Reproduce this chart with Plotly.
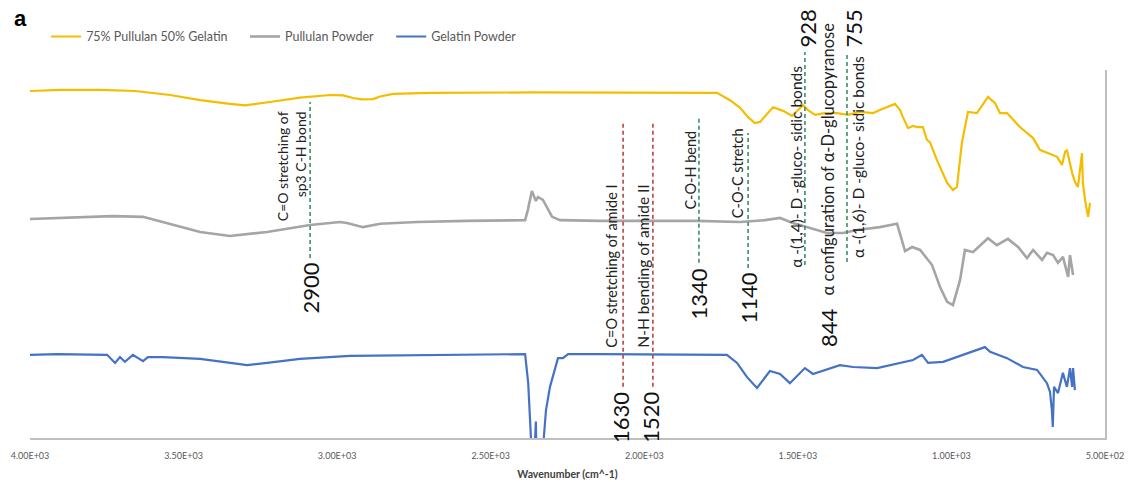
import plotly.graph_objects as go

# ---------------- data (wavenumber cm^-1, relative transmittance a.u.) ----------------
mix_wn = [4000, 3902, 3772, 3658, 3544, 3446, 3349, 3300, 3219, 3121, 3023, 2981, 2948, 2919,
          2883, 2860, 2818, 2698, 2372, 2144, 1763, 1721, 1688, 1662, 1640, 1623, 1607, 1581,
          1548, 1519, 1483, 1467, 1444, 1412, 1373, 1337, 1298, 1255, 1233, 1184, 1167, 1158,
          1141, 1125, 1112, 1093, 1080, 1070, 1047, 1014, 995, 982, 966, 946, 917, 881, 858,
          842, 819, 777, 734, 712, 656, 640, 630, 624, 607, 598, 588, 575, 572, 565, 555, 549]
mix_t = [94.3, 94.6, 94.6, 94.3, 93.2, 91.8, 90.8, 90.4, 91.3, 92.5, 93.2, 93.1, 92.4, 92.0,
         92.1, 92.8, 93.5, 93.8, 93.9, 93.9, 93.8, 91.8, 89.7, 87.2, 85.6, 85.9, 87.5, 89.9,
         88.9, 87.5, 90.5, 89.1, 87.8, 88.3, 88.3, 87.8, 88.6, 88.3, 89.1, 90.8, 89.1, 87.2,
         84.2, 84.8, 84.5, 84.5, 81.0, 80.4, 75.5, 69.3, 67.4, 68.2, 80.2, 88.6, 88.3, 92.7, 91.0,
         88.3, 88.3, 84.5, 81.5, 78.3, 76.4, 74.2, 77.7, 78.3, 72.0, 69.6, 68.2, 77.4, 69.3, 64.7, 60.1, 63.9]

pul_wn = [4000, 3880, 3733, 3632, 3554, 3446, 3349, 3228, 3088, 2991, 2968, 2916, 2860, 2740,
          2577, 2388, 2379, 2366, 2353, 2346, 2330, 2300, 2274, 2144, 1828, 1688, 1607, 1558,
          1516, 1451, 1405, 1353, 1307, 1233, 1177, 1151, 1128, 1102, 1076, 1063, 1037, 1014,
          995, 972, 956, 930, 881, 852, 816, 783, 754, 734, 705, 689, 669, 653, 637, 620, 614, 604]
pul_t = [59.5, 59.8, 60.3, 60.1, 58.4, 56.0, 54.9, 56.0, 57.9, 58.7, 58.4, 57.3, 58.2, 58.7,
         59.0, 59.2, 62.0, 67.1, 64.4, 65.5, 64.7, 60.1, 59.2, 59.0, 59.0, 58.7, 59.2, 59.8,
         58.4, 56.8, 55.7, 55.7, 56.5, 57.3, 58.2, 50.8, 51.9, 51.1, 48.4, 47.0, 41.0, 37.0,
         36.1, 42.9, 51.1, 50.5, 54.3, 52.4, 54.1, 51.9, 48.9, 51.1, 48.4, 50.3, 49.7, 47.6, 49.2, 43.8, 49.7, 44.3]

gel_wn = [4000, 3912, 3749, 3723, 3707, 3691, 3665, 3632, 3616, 3567, 3446, 3339, 3293, 3228,
          3121, 2958, 2535, 2388, 2378, 2372, 2366, 2358, 2355, 2353, 2351, 2343, 2330, 2320,
          2307, 2291, 2281, 2265, 2248, 2144, 1731, 1698, 1666, 1633, 1591, 1558, 1526, 1477,
          1451, 1363, 1320, 1242, 1167, 1125, 1096, 1076, 1027, 982, 930, 891, 874, 819, 767,
          721, 689, 679, 673, 670, 666, 653, 637, 624, 614, 607, 604, 598]
gel_t = [22.6, 22.8, 22.6, 20.4, 22.0, 20.7, 22.6, 20.9, 22.0, 22.0, 21.5, 20.4, 19.8, 20.4,
         21.5, 22.3, 22.8, 22.8, 15.0, 5.0, -5.0, -5.0, 3.5, 4.5, -5.0, -5.0, -3.0, 7.6,
         13.9, 19.0, 21.7, 21.7, 22.8, 22.8, 22.6, 20.4, 16.6, 13.6, 18.2, 17.4, 14.9, 19.0,
         17.4, 19.8, 19.3, 19.0, 20.4, 21.2, 22.6, 20.4, 20.7, 22.0, 23.6, 24.7, 23.4, 21.7, 19.3,
         18.5, 14.9, 12.5, 7.6, 3.0, 13.9, 12.2, 17.7, 13.9, 19.0, 13.9, 19.0, 13.0]

series_names = ["75% Pullulan 50% Gelatin", "Pullulan Powder", "Gelatin Powder"]
tick_vals = [4000, 3500, 3000, 2500, 2000, 1500, 1000, 500]
tick_text = ["4.00E+03", "3.50E+03", "3.00E+03", "2.50E+03", "2.00E+03", "1.50E+03", "1.00E+03", "5.00E+02"]

# peak markers: (label number, line x, line y0, line y1, colour kind)
peak_lines = [
    ("2900", 3088, 48.9, 91.3, "g"),
    ("1630", 2069, 13.9, 85.9, "r"),
    ("1520", 1972, 13.9, 85.9, "r"),
    ("1340", 1822, 47.6, 87.2, "g"),
    ("1140", 1662, 46.2, 82.9, "g"),
    ("928", 1477, 47.0, 104.9, "g"),
    ("755", 1340, 47.8, 104.9, "g"),
]
# descriptive labels: (text, x, y of lower end, font size)
peak_texts = [
    ("C=O stretching of<br>sp3 C-H bond", 3150, 58.4, 14),
    ("C=O stretching of amide I", 2108, 23.9, 14.5),
    ("N-H bending of amide II", 2007, 23.9, 15.5),
    ("C-O-H bend", 1851, 61.4, 14.5),
    ("C-O-C stretch", 1698, 59.2, 14.5),
    ("α -(1,4)- D -gluco- sidic bonds", 1506, 45.7, 15.5),
    ("α configuration of α-D-glucopyranose", 1402, 38.3, 16.5),
    ("α -(1,6)- D -gluco- sidic bonds", 1304, 48.4, 15.5),
]
# numbers: (text, x, y, anchor)
peak_numbers = [
    ("2900", 3088, 48.1, "top"),
    ("1630", 2078, 13.0, "top"),
    ("1520", 1978, 13.0, "top"),
    ("1340", 1822, 46.7, "top"),
    ("1140", 1662, 45.4, "top"),
    ("928", 1470, 105.6, "bottom"),
    ("844", 1402, 24.3, "bottom"),
    ("755", 1320, 105.6, "bottom"),
]

colors = ["#F5BD00", "#A5A5A5", "#4472C4"]
widths = [2.2, 2.6, 2.2]
legend_ids = ["legend", "legend2", "legend3"]
legend_x = [0.015, 0.2, 0.336]

fig = go.Figure()
for wn, t, name, c, w, lg in zip([mix_wn, pul_wn, gel_wn], [mix_t, pul_t, gel_t], series_names,
                                 colors, widths, legend_ids):
    fig.add_trace(go.Scatter(x=wn, y=t, mode="lines", name=name, legend=lg,
                             line=dict(color=c, width=w)))

shapes = []
for lab, x, y0, y1, kind in peak_lines:
    shapes.append(dict(type="line", xref="x", yref="paper", x0=x, x1=x, y0=y0 / 100, y1=y1 / 100,
                       line=dict(color="#3C9163" if kind == "g" else "#B8433F", width=1.6, dash="4px,3px")))

annotations = []
for txt, x, y, fs in peak_texts:
    annotations.append(dict(x=x, y=y / 100, xref="x", yref="paper", text=txt, textangle=-90,
                            showarrow=False, xanchor="center", yanchor="bottom", align="right",
                            font=dict(family="Lato, sans-serif", size=fs, color="#222222")))
for txt, x, y, anc in peak_numbers:
    annotations.append(dict(x=x, y=y / 100, xref="x", yref="paper", text=txt, textangle=-90,
                            showarrow=False, xanchor="center", yanchor=anc,
                            font=dict(family="Lato, sans-serif", size=22, color="#111111")))
annotations.append(dict(x=-0.017, y=1.139, xref="paper", yref="paper", text="<b>a</b>",
                        showarrow=False, xanchor="left", yanchor="middle",
                        font=dict(family="Liberation Sans, sans-serif", size=22, color="#000000")))

legend_style = dict(orientation="h", y=1.09, xanchor="left", yanchor="middle",
                    font=dict(family="Lato, sans-serif", size=12.5, color="#595959"),
                    itemwidth=30, bgcolor="rgba(0,0,0,0)")

fig.update_layout(
    width=1136, height=482,
    margin=dict(l=30, r=31, t=70, b=44),
    paper_bgcolor="white", plot_bgcolor="white",
    shapes=shapes, annotations=annotations,
    showlegend=True,
    legend=dict(x=legend_x[0], **legend_style),
    legend2=dict(x=legend_x[1], **legend_style),
    legend3=dict(x=legend_x[2], **legend_style),
    xaxis=dict(range=[4000, 500], tickvals=tick_vals, ticktext=tick_text, automargin=False,
               showgrid=False, zeroline=False, showline=True, linecolor="#BFBFBF", linewidth=2,
               ticks="", ticklabelstandoff=8,
               tickfont=dict(family="Lato, sans-serif", size=9, color="#595959"),
               title=dict(text="<b>Wavenumber (cm^-1)</b>", standoff=11,
                          font=dict(family="Lato, sans-serif", size=10.5, color="#404040"))),
    yaxis=dict(range=[0, 100], showgrid=False, zeroline=False, showticklabels=False, automargin=False,
               showline=True, side="right", linecolor="#BFBFBF", linewidth=2, ticks=""),
)

fig.write_html("out.html")
